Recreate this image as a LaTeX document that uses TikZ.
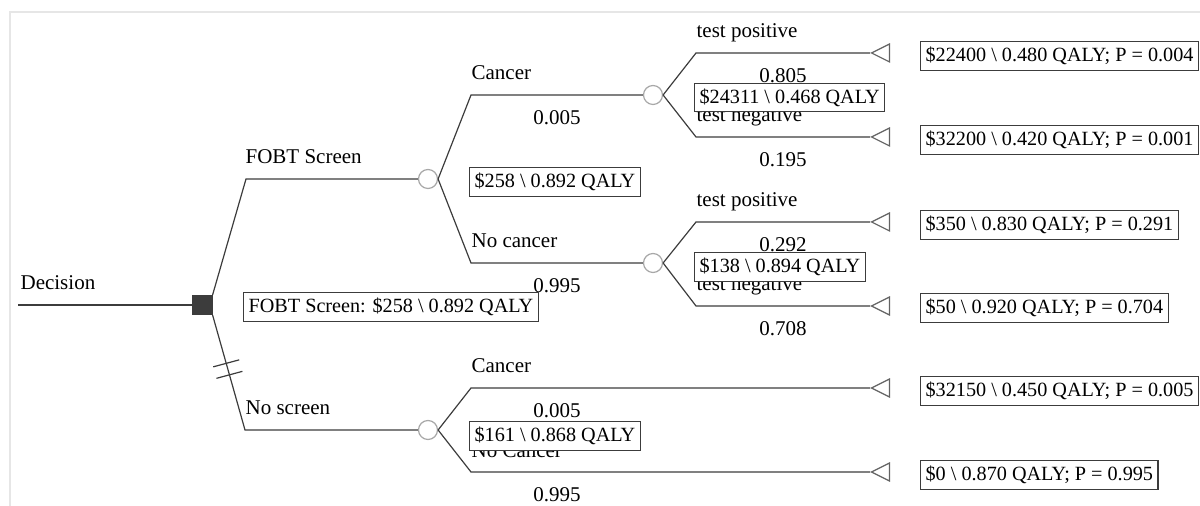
\documentclass[tikz,border=0pt]{standalone}
\usepackage{fontspec}
\setmainfont{Liberation Serif}
\usepackage{tikz}
\usetikzlibrary{calc, shapes.geometric}
\usepackage{xcolor}
\definecolor{treeline}{HTML}{3C3C3C}
\definecolor{chancegray}{HTML}{A8A8A8}
\definecolor{framegray}{HTML}{E6E6E6}

\begin{document}
\begin{tikzpicture}[x=0.5pt, y=-0.5pt, line width=0.6pt]
      % Styles
      \tikzset{decnode/.style={draw=treeline, fill=treeline, rectangle, minimum size=9.5pt, inner sep=0pt}}
      \tikzset{chance/.style={draw=chancegray, fill=white, circle, minimum size=9.5pt, inner sep=0pt}}
      \tikzset{terminal/.style={draw=treeline!80, fill=white, isosceles triangle, shape border rotate=180, isosceles triangle stretches, minimum width=9pt, minimum height=9pt, inner sep=0pt, anchor=apex}}
      \tikzset{branch/.style={font=\fontsize{10.5}{12}\selectfont, anchor=base west, inner sep=0pt}}
      \tikzset{prob/.style={font=\fontsize{10.5}{12}\selectfont, anchor=base, inner sep=0pt}}
      \tikzset{payoff/.style={draw=treeline, fill=white, font=\fontsize{10.1}{12}\selectfont, inner xsep=2.5pt, inner ysep=2.6pt, anchor=west}}
      \tikzset{edge/.style={draw=treeline}}

      \useasboundingbox (0,0) rectangle (1200,506);
      \draw[framegray, line width=1pt] (10,506) -- (10,12) -- (1200,12);

      % --- Decision and chance nodes ---
      \coordinate (root) at (18,305);
      \node[decnode] (dec) at (202.5,305) {};
      \node[chance] (cFobt) at (428,179) {};
      \node[chance] (cNone) at (428,430) {};
      \node[chance] (cCanc) at (653,95) {};
      \node[chance] (cHealthy) at (653,263) {};

      % --- Terminal nodes ---
      \node[terminal] (tCancPos) at (870,53) {};
      \node[terminal] (tCancNeg) at (870,137) {};
      \node[terminal] (tHealPos) at (870,222) {};
      \node[terminal] (tHealNeg) at (870,306) {};
      \node[terminal] (tNoneCanc) at (870,388) {};
      \node[terminal] (tNoneHeal) at (870,472) {};

      % --- Branch corners ---
      \coordinate (kFobt) at (246,179);
      \coordinate (kNone) at (245,430);
      \coordinate (kCanc) at (471,95);
      \coordinate (kHealthy) at (471,263);
      \coordinate (kNoneCanc) at (471,388);
      \coordinate (kNoneHeal) at (471,472);
      \coordinate (kCancPos) at (696,53);
      \coordinate (kCancNeg) at (696,137);
      \coordinate (kHealPos) at (696,222);
      \coordinate (kHealNeg) at (696,306);

      % --- Branches ---
      \draw[edge] (root) -- (dec.west);
      \draw[edge] (dec.north east) -- (kFobt) -- (cFobt.west);
      \draw[edge] (dec.south east) -- coordinate[pos=0.42] (h1) coordinate[pos=0.52] (h2) (kNone) -- (cNone.west);
      \draw[edge] ($(h1)+(-13,3.5)$) -- ($(h1)+(13,-3.5)$);
      \draw[edge] ($(h2)+(-13,3.5)$) -- ($(h2)+(13,-3.5)$);

      \draw[edge] (cFobt.east) -- (kCanc) -- (cCanc.west);
      \draw[edge] (cFobt.east) -- (kHealthy) -- (cHealthy.west);
      \draw[edge] (cNone.east) -- (kNoneCanc) -- (tNoneCanc.apex);
      \draw[edge] (cNone.east) -- (kNoneHeal) -- (tNoneHeal.apex);
      \draw[edge] (cCanc.east) -- (kCancPos) -- (tCancPos.apex);
      \draw[edge] (cCanc.east) -- (kCancNeg) -- (tCancNeg.apex);
      \draw[edge] (cHealthy.east) -- (kHealPos) -- (tHealPos.apex);
      \draw[edge] (cHealthy.east) -- (kHealNeg) -- (tHealNeg.apex);

      % --- Branch names ---
      \node[branch] (lDec) at (20,290) {Decision};
      \node[branch] (lFobt) at (245,164) {FOBT Screen};
      \node[branch] (lNone) at (245,415) {No screen};
      \node[branch] (lCanc) at (471,80) {Cancer};
      \node[branch] (lHealthy) at (471,248) {No cancer};
      \node[branch] (lNoneCanc) at (471,373) {Cancer};
      \node[branch] (lNoneHeal) at (471,458) {No Cancer};
      \node[branch] (lCancPos) at (696,38) {test positive};
      \node[branch] (lCancNeg) at (696,122) {test negative};
      \node[branch] (lHealPos) at (696,207) {test positive};
      \node[branch] (lHealNeg) at (696,291) {test negative};

      % --- Probabilities ---
      \node[prob] (pCanc) at (557,125) {0.005};
      \node[prob] (pHealthy) at (557,293) {0.995};
      \node[prob] (pNoneCanc) at (557,418) {0.005};
      \node[prob] (pNoneHeal) at (557,502) {0.995};
      \node[prob] (pCancPos) at (783,83) {0.805};
      \node[prob] (pCancNeg) at (783,167) {0.195};
      \node[prob] (pHealPos) at (783,252) {0.292};
      \node[prob] (pHealNeg) at (783,336) {0.708};

      % --- Expected values ---
      \node[payoff] (vDec) at (243,307) {FOBT Screen: \$258 \textbackslash{} 0.892 QALY};
      \node[payoff] (vFobt) at (469,182) {\$258 \textbackslash{} 0.892 QALY};
      \node[payoff] (vNone) at (469,436) {\$161 \textbackslash{} 0.868 QALY};
      \node[payoff] (vCanc) at (694,97.5) {\$24311 \textbackslash{} 0.468 QALY};
      \node[payoff] (vHealthy) at (694,267) {\$138 \textbackslash{} 0.894 QALY};

      % --- Outcomes ---
      \node[payoff] (oCancPos) at (920,56) {\$22400 \textbackslash{} 0.480 QALY; P = 0.004};
      \node[payoff] (oCancNeg) at (920,140) {\$32200 \textbackslash{} 0.420 QALY; P = 0.001};
      \node[payoff] (oHealPos) at (920,225) {\$350 \textbackslash{} 0.830 QALY; P = 0.291};
      \node[payoff] (oHealNeg) at (920,308) {\$50 \textbackslash{} 0.920 QALY; P = 0.704};
      \node[payoff] (oNoneCanc) at (920,391) {\$32150 \textbackslash{} 0.450 QALY; P = 0.005};
      \node[payoff] (oNoneHeal) at (920,475) {\$0 \textbackslash{} 0.870 QALY; P = 0.995};

\end{tikzpicture}
\end{document}
